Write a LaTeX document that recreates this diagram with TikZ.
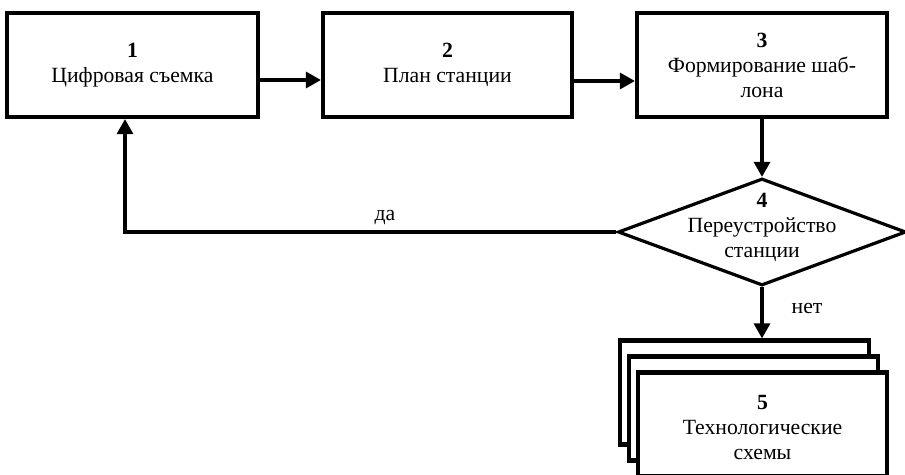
\documentclass[tikz,border=0pt]{standalone}
\usepackage{fontspec}
\setmainfont{Liberation Serif}
\usetikzlibrary{arrows.meta,shapes.geometric}

\tikzset{
  txt/.style={font=\fontsize{21.7}{25}\selectfont, align=center},
  box/.style={txt, draw, line width=4.2pt, fill=white,
    minimum width=249pt, minimum height=104pt, inner sep=0pt},
  conn/.style={line width=3.2pt},
  arr/.style={conn, -{Triangle[length=15pt,width=16pt]}},
}

\begin{document}
\begin{tikzpicture}[x=1pt, y=-1pt]
  \useasboundingbox (0,0) rectangle (905,474);

  % process boxes
  \node[box, minimum width=251pt] (b1) at (132.5,65) {\textbf{1}\\Цифровая съемка};
  \node[box] (b2) at (447.5,65) {\textbf{2}\\План станции};
  \node[box, minimum width=250pt] (b3) at (762,65) {\textbf{3}\\Формирование шаб-\\лона};

  % decision
  \node[draw, diamond, line width=3.2pt, minimum width=288pt, minimum height=107pt,
        inner sep=0pt, fill=white] (d4) at (762,232) {};
  \node[txt, inner sep=0pt] (d4t) at (762,227) {\textbf{4}\\Переустройство\\станции};

  % stack of documents
  \node[box] (s1) at (744.5,392.5) {};
  \node[box] (s2) at (753.5,408.5) {};
  \node[box] (s3) at (762.5,424.5) {};
  \node[txt, inner sep=0pt] (s3t) at (762.5,427) {\textbf{5}\\Технологические\\схемы};

  % connectors
  \draw[arr] ([yshift=-15pt]b1.east) -- ([yshift=-15pt]b2.west);
  \draw[arr] ([yshift=-16pt]b2.east) -- ([yshift=-16pt]b3.west);
  \draw[arr] (b3.south) -- (d4.north);
  \draw[arr] (d4.west) -| ([xshift=-7.5pt]b1.south);
  \draw[arr] (d4.south) -- (d4.south |- s1.north);

  % branch labels
  \node[txt] (yes) at (385,218) {да};
  \node[txt] (no) at (807,308) {нет};
\end{tikzpicture}
\end{document}
